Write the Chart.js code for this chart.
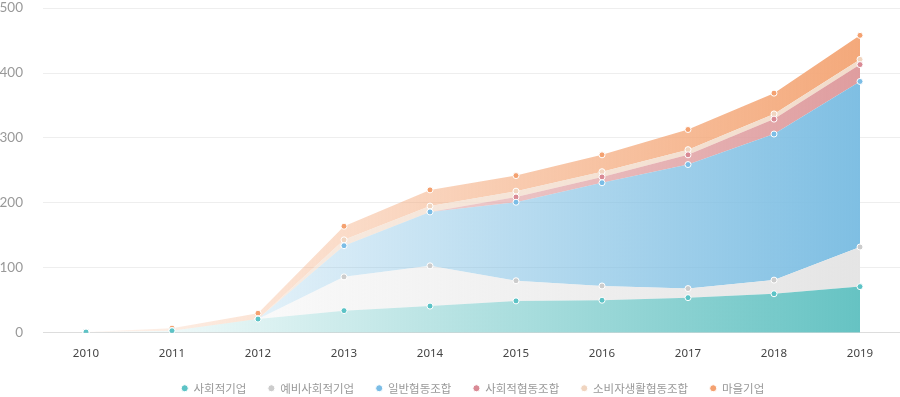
<!DOCTYPE html>
<html>
<head>
<meta charset="utf-8">
<script src="https://cdn.jsdelivr.net/npm/chart.js@4"></script>
<style>
html,body{margin:0;padding:0;background:#fff;overflow:hidden;}
#wrap{width:903px;height:404px;position:relative;}
</style>
</head>
<body>
<div id="wrap"><canvas id="c"></canvas></div>
<script>
const years = ['2010','2011','2012','2013','2014','2015','2016','2017','2018','2019'];
const socialEnterprise    = [1, 3, 21, 34, 41, 49, 50, 54, 60, 71];
const preSocialEnterprise = [0, 0, 0, 52, 62, 31, 22, 14, 21, 61];
const generalCoop         = [0, 0, 0, 48, 83, 121, 159, 191, 225, 255];
const socialCoop          = [0, 0, 0, 0, 0, 8, 9, 15, 23, 26];
const consumerCoop        = [0, 0, 0, 9, 9, 9, 8, 8, 8, 8];
const villageEnterprise   = [0, 4, 9, 21, 25, 24, 26, 31, 32, 37];
const yTicks = [0, 100, 200, 300, 400, 500];

function grad(r, g, b, a0) {
  return function(ctx) {
    const chart = ctx.chart;
    const area = chart.chartArea;
    if (!area || !chart.scales.x) return 'rgba(' + r + ',' + g + ',' + b + ',0.5)';
    const x0 = chart.scales.x.getPixelForValue(0);
    const x1 = chart.scales.x.getPixelForValue(years.length - 1);
    const gr = chart.ctx.createLinearGradient(x0, 0, x1, 0);
    gr.addColorStop(0, 'rgba(' + r + ',' + g + ',' + b + ',' + a0 + ')');
    gr.addColorStop(1, 'rgba(' + r + ',' + g + ',' + b + ',1)');
    return gr;
  };
}

function ds(label, data, fillColor, pointColor, fill) {
  return {
    label: label,
    data: data,
    backgroundColor: fillColor,
    borderWidth: 0,
    borderColor: 'rgba(0,0,0,0)',
    pointBackgroundColor: pointColor,
    pointBorderColor: '#ffffff',
    pointBorderWidth: 1,
    pointRadius: 3,
    pointHoverRadius: 3.5,
    fill: fill,
    tension: 0
  };
}

new Chart(document.getElementById('c'), {
  type: 'line',
  data: {
    labels: years,
    datasets: [
      ds('사회적기업', socialEnterprise, grad(102,195,195,0.0), '#5cc3c6', 'origin'),
      ds('예비사회적기업', preSocialEnterprise, grad(229,229,229,0.0), '#cccccc', '-1'),
      ds('일반협동조합', generalCoop, grad(127,191,227,0.0), '#7bbde6', '-1'),
      ds('사회적협동조합', socialCoop, grad(223,157,159,0.15), '#d98a95', '-1'),
      ds('소비자생활협동조합', consumerCoop, grad(242,220,203,0.45), '#f0d5c0', '-1'),
      ds('마을기업', villageEnterprise, grad(244,169,123,0.12), '#f4a170', '-1')
    ]
  },
  options: {
    responsive: true,
    maintainAspectRatio: false,
    animation: false,
    layout: { autoPadding: false, padding: { top: 8, left: 0, right: 0, bottom: 0 } },
    plugins: {
      legend: {
        position: 'bottom',
        fullSize: false,
        labels: {
          usePointStyle: true,
          pointStyle: 'circle',
          boxWidth: 6,
          boxHeight: 5,
          padding: 22,
          color: '#999999',
          font: { family: "'Noto Sans CJK KR', 'Noto Sans', sans-serif", size: 11.5 }
        }
      },
      tooltip: { enabled: false }
    },
    scales: {
      x: {
        offset: true,
        grid: { display: true, color: 'rgba(0,0,0,0)', drawTicks: true, tickLength: 14, tickColor: 'rgba(0,0,0,0)' },
        border: { display: true, color: '#dddddd' },
        ticks: {
          color: '#444444',
          padding: 0,
          font: { family: "'Noto Sans', sans-serif", size: 11.5 }
        }
      },
      y: {
        stacked: true,
        min: 0,
        max: 500,
        afterBuildTicks: function(axis) { axis.ticks = yTicks.map(v => ({ value: v })); },
        afterFit: function(axis) { axis.width = 43; },
        grid: {
          drawTicks: true,
          tickLength: 20,
          tickColor: 'rgba(0,0,0,0)',
          color: function(c) { return c.tick && c.tick.value === 0 ? '#dddddd' : '#eeeeee'; }
        },
        border: { display: false },
        ticks: {
          color: '#999999',
          padding: 0,
          font: { family: "Lato, sans-serif", size: 13.5 }
        }
      }
    }
  }
});
</script>
</body>
</html>
